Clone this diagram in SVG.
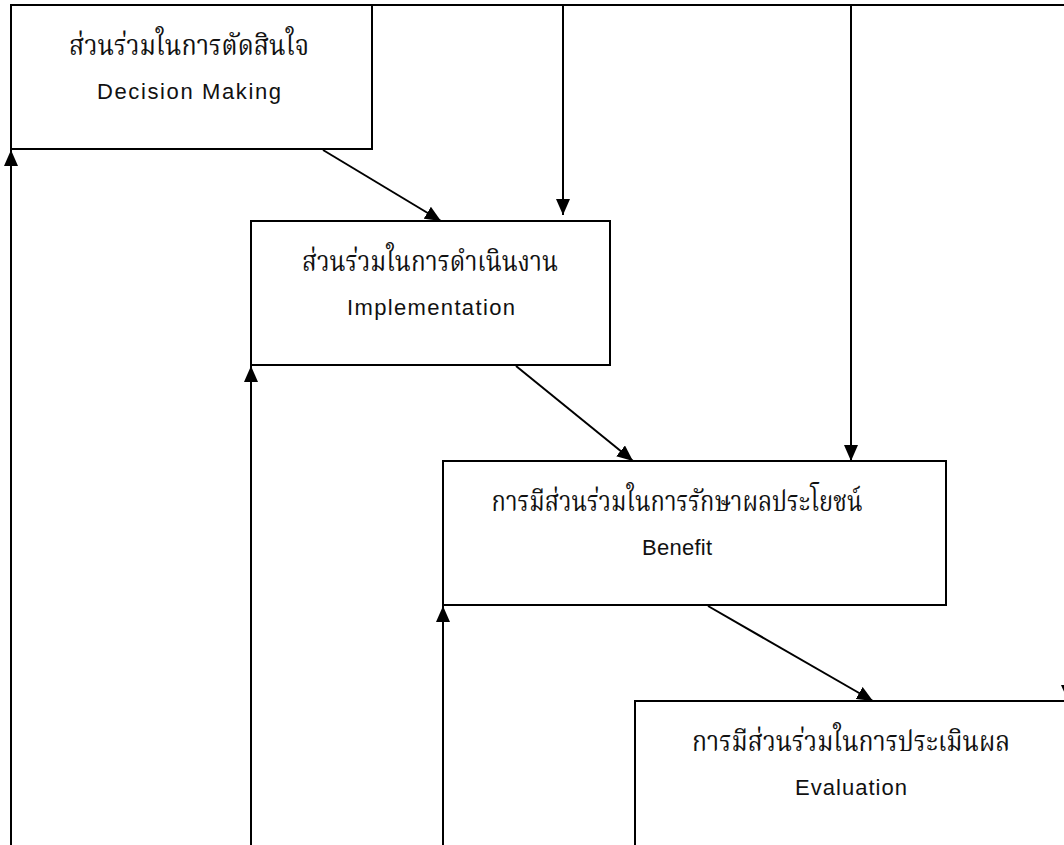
<svg xmlns="http://www.w3.org/2000/svg" width="1064" height="845" viewBox="0 0 1064 845">
<style>
.box{fill:#fff;stroke:#000;stroke-width:2}
.ln{fill:none;stroke:#000;stroke-width:2}
.th{font-family:"Noto Serif Thai","Noto Sans Thai","Liberation Serif","DejaVu Serif",serif;font-size:28px;fill:#111;text-anchor:middle}
.en{font-family:"Liberation Sans",Arial,sans-serif;font-size:22px;fill:#111;text-anchor:middle}
</style>
<defs>
<marker id="ah" markerWidth="16" markerHeight="14" refX="16" refY="7" orient="auto" markerUnits="userSpaceOnUse">
<path d="M0,0 L16,7 L0,14 Z" fill="#000"/>
</marker>
</defs>
<rect width="1064" height="845" fill="#fff"/>
<g id="connectors">
<path class="ln" d="M372,5 H1064"/>
<path class="ln" d="M563,5 V215" marker-end="url(#ah)"/>
<path class="ln" d="M851,5 V461" marker-end="url(#ah)"/>
<path class="ln" d="M323,150 L441,221" marker-end="url(#ah)"/>
<path class="ln" d="M516,366 L633,461" marker-end="url(#ah)"/>
<path class="ln" d="M708,606 L873,701" marker-end="url(#ah)"/>
<path class="ln" d="M1068,650 V701" marker-end="url(#ah)"/>
<path class="ln" d="M11,845 V150" marker-end="url(#ah)"/>
<path class="ln" d="M251,845 V366" marker-end="url(#ah)"/>
<path class="ln" d="M443,845 V606" marker-end="url(#ah)"/>
</g>
<g id="node-decision">
<rect class="box" x="11" y="5" width="361" height="144"/>
<text class="th" x="189" y="55" textLength="240" lengthAdjust="spacingAndGlyphs">ส่วนร่วมในการตัดสินใจ</text>
<text class="en" x="189" y="99" textLength="184" lengthAdjust="spacing">Decision Making</text>
</g>
<g id="node-implementation">
<rect class="box" x="251" y="221" width="359" height="144"/>
<text class="th" x="430" y="271" textLength="256" lengthAdjust="spacingAndGlyphs">ส่วนร่วมในการดำเนินงาน</text>
<text class="en" x="431" y="315" textLength="168" lengthAdjust="spacing">Implementation</text>
</g>
<g id="node-benefit">
<rect class="box" x="443" y="461" width="503" height="144"/>
<text class="th" x="677" y="511" textLength="371" lengthAdjust="spacingAndGlyphs">การมีส่วนร่วมในการรักษาผลประโยชน์</text>
<text class="en" x="677" y="555" textLength="70" lengthAdjust="spacing">Benefit</text>
</g>
<g id="node-evaluation">
<rect class="box" x="635" y="701" width="440" height="160"/>
<text class="th" x="851" y="751" textLength="318" lengthAdjust="spacingAndGlyphs">การมีส่วนร่วมในการประเมินผล</text>
<text class="en" x="851" y="795" textLength="112" lengthAdjust="spacing">Evaluation</text>
</g>
</svg>
